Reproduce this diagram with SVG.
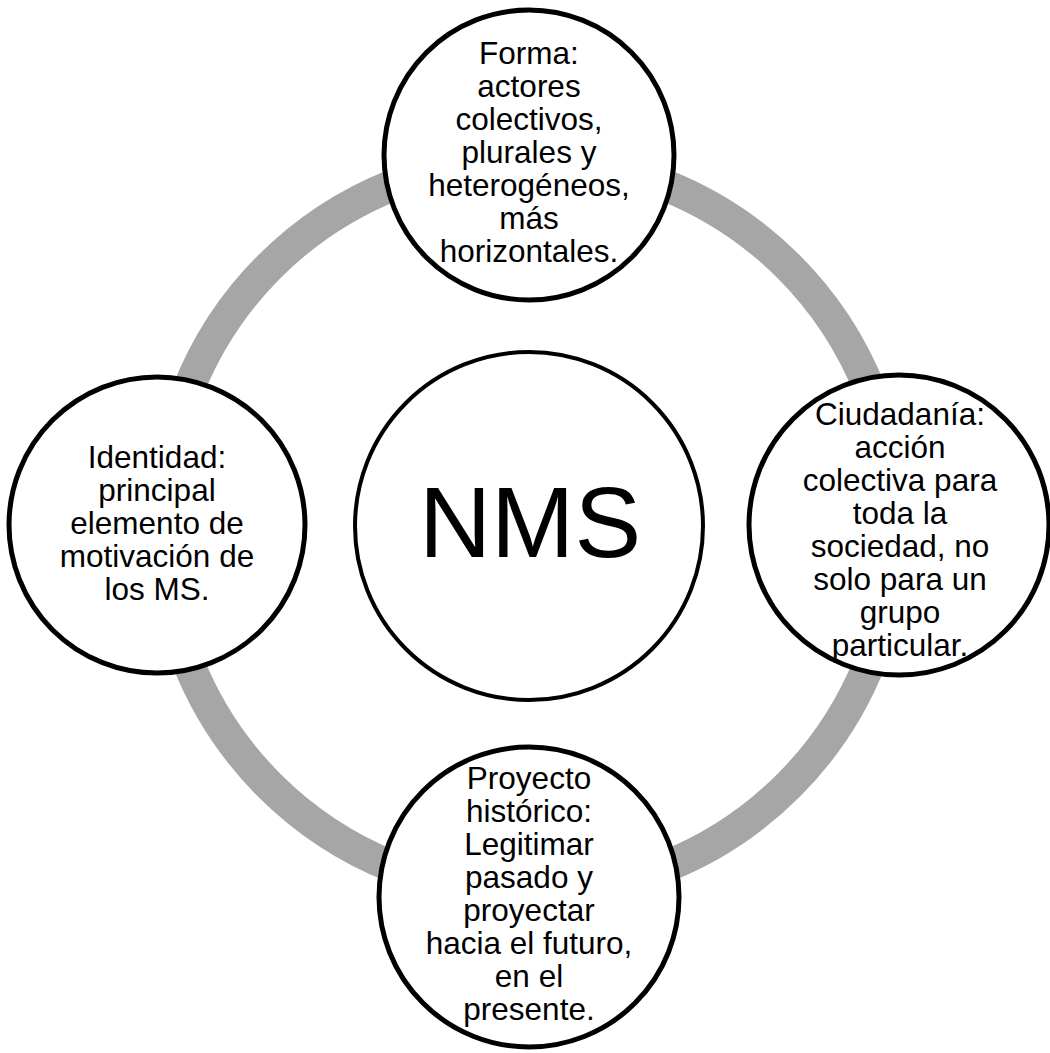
<svg xmlns="http://www.w3.org/2000/svg" width="1050" height="1053" viewBox="0 0 1050 1053">
<style>
.node{fill:#ffffff;stroke:#000000;stroke-width:5}
.center{fill:#ffffff;stroke:#000000;stroke-width:4}
.t{font-family:"Liberation Sans",Arial,sans-serif;font-size:31.5px;fill:#000000;text-anchor:middle}
.big{font-family:"Liberation Sans",Arial,sans-serif;font-size:100px;fill:#000000;text-anchor:middle}
</style>
<rect width="1050" height="1053" fill="#ffffff"/>
<g id="connectors">
<circle cx="529" cy="526" r="367" fill="none" stroke="#a6a6a6" stroke-width="32"/>
</g>
<g id="node-top">
<circle class="node" cx="529" cy="155" r="145"/>
<text class="t"><tspan x="529" y="64">Forma:</tspan><tspan x="529" y="97">actores</tspan><tspan x="529" y="130">colectivos,</tspan><tspan x="529" y="163">plurales y</tspan><tspan x="529" y="196">heterogéneos,</tspan><tspan x="529" y="229">más</tspan><tspan x="529" y="262">horizontales.</tspan></text>
</g>
<g id="node-right">
<circle class="node" cx="899" cy="525" r="150"/>
<text class="t"><tspan x="900" y="425">Ciudadanía:</tspan><tspan x="900" y="458">acción</tspan><tspan x="900" y="491">colectiva para</tspan><tspan x="900" y="524">toda la</tspan><tspan x="900" y="557">sociedad, no</tspan><tspan x="900" y="590">solo para un</tspan><tspan x="900" y="623">grupo</tspan><tspan x="900" y="656">particular.</tspan></text>
</g>
<g id="node-bottom">
<circle class="node" cx="529" cy="897" r="150"/>
<text class="t"><tspan x="529" y="789">Proyecto</tspan><tspan x="529" y="822">histórico:</tspan><tspan x="529" y="855">Legitimar</tspan><tspan x="529" y="888">pasado y</tspan><tspan x="529" y="921">proyectar</tspan><tspan x="529" y="954">hacia el futuro,</tspan><tspan x="529" y="987">en el</tspan><tspan x="529" y="1020">presente.</tspan></text>
</g>
<g id="node-left">
<circle class="node" cx="157" cy="525" r="148"/>
<text class="t"><tspan x="157" y="468">Identidad:</tspan><tspan x="157" y="501">principal</tspan><tspan x="157" y="534">elemento de</tspan><tspan x="157" y="567">motivación de</tspan><tspan x="157" y="600">los MS.</tspan></text>
</g>
<g id="node-center">
<circle class="center" cx="529" cy="526" r="174"/>
<text class="big" x="530" y="557">NMS</text>
</g>
</svg>
